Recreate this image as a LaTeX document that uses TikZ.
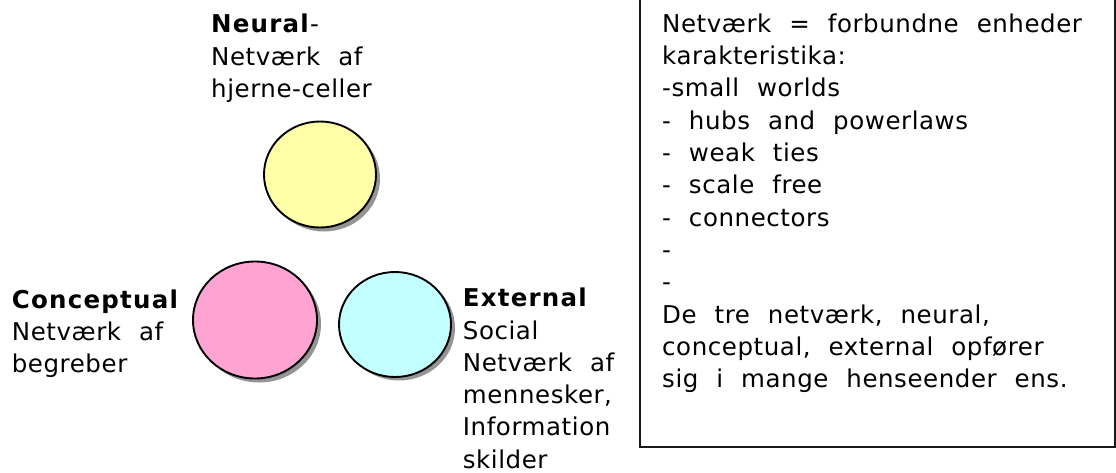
\documentclass[tikz,border=0pt]{standalone}
\usepackage{fontspec}
\usetikzlibrary{shapes.geometric}
\setmainfont{DejaVu Sans}[LetterSpace=2.3, WordSpace=2.15, BoldFeatures={LetterSpace=5}]
\begin{document}
\begin{tikzpicture}[x=1pt,y=-1pt,
  lbl/.style={inner sep=0pt, anchor=base west, align=left,
    font=\fontsize{24.5}{32.3}\selectfont},
  blob/.style={draw=black, line width=1.9pt, ellipse, inner sep=0pt},
  shade/.style={fill=black!60, opacity=0.7}]
\useasboundingbox (0,0) rectangle (1116,472);
% shadows
\fill[shade] (324,178.5) ellipse [x radius=56, y radius=53];
\fill[shade] (259,324) ellipse [x radius=62, y radius=58.5];
\fill[shade] (399,328) ellipse [x radius=56, y radius=52.5];
% circles
\node[blob, fill={rgb,255:red,255;green,255;blue,168}, minimum width=112pt, minimum height=106pt] (neural) at (320,174.5) {};
\node[blob, fill={rgb,255:red,255;green,164;blue,210}, minimum width=124pt, minimum height=117pt] (conceptual) at (255,320) {};
\node[blob, fill={rgb,255:red,194;green,255;blue,255}, minimum width=112pt, minimum height=105pt] (external) at (395,324.5) {};
% labels (anchored at the baseline of their last line)
\node[lbl] (neurallbl) at (211,97.3) {\textbf{Neural}-\\Netværk af\\hjerne-celler};
\node[lbl] (conclbl) at (11.7,372.9) {\textbf{Conceptual}\\Netværk af\\begreber};
\node[lbl] (extlbl) at (462.7,468.2) {\textbf{External}\\Social\\Netværk af\\mennesker,\\Information\\skilder};
% box
\draw[line width=2pt, draw=black!90] (639.5,-5) -- (639.5,446.7) -- (1115,446.7) -- (1115,-5);
\node[lbl] (boxtext) at (662,387.6) {Netværk = forbundne enheder\\karakteristika:\\-small worlds\\- hubs and powerlaws\\- weak ties\\- scale free\\- connectors\\-\\-\\De tre netværk, neural,\\conceptual, external opfører\\sig i mange henseender ens.};
\end{tikzpicture}
\end{document}
